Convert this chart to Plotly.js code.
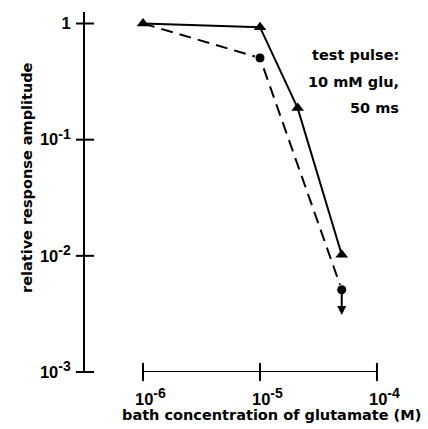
<!DOCTYPE html>
<html>
<head>
<meta charset="utf-8">
<script src="https://cdn.plot.ly/plotly-3.0.1.min.js"></script>
<style>
  html, body { margin: 0; padding: 0; background: #fff; }
  #chart { width: 428px; height: 429px; }
</style>
</head>
<body>
<div id="chart"></div>
<script>
// ---- data ----
var concSolid = [1e-6, 1e-5, 2.1e-5, 5e-5];          // bath glutamate (M), triangles
var ampSolid  = [1.0, 0.93, 0.187, 0.0102];           // relative amplitude, triangles
var concDashed = [1e-6, 1e-5, 5e-5];                  // circles
var ampDashed  = [1.0, 0.505, 0.0051];
var dashedArrowTip = 0.0031;                          // "less than" arrow below last circle

var xTickVals = [1e-6, 1e-5, 1e-4];
var xTickExp  = ['-6', '-5', '-4'];
var yTickVals = [1e-3, 1e-2, 1e-1, 1];
var yTickExp  = ['-3', '-2', '-1', ''];

var xTitle = 'bath concentration of glutamate (M)';
var yTitle = 'relative response amplitude';
var noteLines = ['test pulse:', '10 mM glu,', '50 ms'];

// ---- drawing ----
var ink = '#000';
var textFont = {family: 'DejaVu Sans', size: 14.5, color: ink, weight: 'bold'};
var tickFont = {family: 'Liberation Sans', size: 16.5, color: ink, weight: 'bold'};
function powLabel(e) {
  return e === '' ? '1' : '10<sup><span style="font-size:14px">' + e + '</span></sup>';
}
var xTickText = xTickExp.map(powLabel);
var yTickText = yTickExp.map(powLabel);

var traces = [
  { // dashed series (circles); first circle sits under the first triangle
    x: concDashed, y: ampDashed, type: 'scatter', mode: 'lines+markers',
    line: {color: ink, width: 2, dash: '12px,7px'},
    marker: {symbol: 'circle', opacity: 1, color: ink,
             size: concDashed.map(function(v, i){ return i === 0 ? 0 : 10; })},
    cliponaxis: false, showlegend: false, hoverinfo: 'skip'
  },
  { // solid series (triangles)
    x: concSolid, y: ampSolid, type: 'scatter', mode: 'lines+markers',
    line: {color: ink, width: 2},
    marker: {symbol: 'triangle-up', size: 11, color: ink, opacity: 1},
    cliponaxis: false, showlegend: false, hoverinfo: 'skip'
  },
  { // x axis line with crossing ticks, from first to last tick
    x: xTickVals, y: xTickVals.map(function(){ return 0; }),
    xaxis: 'x', yaxis: 'y2', type: 'scatter', mode: 'lines+markers',
    line: {color: ink, width: 2},
    marker: {symbol: 'line-ns', size: 13, line: {color: ink, width: 2}},
    cliponaxis: false, showlegend: false, hoverinfo: 'skip'
  },
  { // crossing ticks on the y axis
    x: yTickVals.map(function(){ return 0; }), y: yTickVals,
    xaxis: 'x2', yaxis: 'y', type: 'scatter', mode: 'markers',
    marker: {symbol: 'line-ew', size: 13, line: {color: ink, width: 2}},
    cliponaxis: false, showlegend: false, hoverinfo: 'skip'
  }
];

var lastX = concDashed[concDashed.length - 1];
var lastY = ampDashed[ampDashed.length - 1];

var annotations = [
  { // arrow below last dashed point
    x: Math.log10(lastX), y: Math.log10(dashedArrowTip), xref: 'x', yref: 'y',
    ax: Math.log10(lastX), ay: Math.log10(lastY), axref: 'x', ayref: 'y',
    showarrow: true, arrowhead: 2, arrowsize: 0.9, arrowwidth: 2, arrowcolor: ink,
    standoff: 0, startstandoff: 0, text: ''
  },
  {
    text: xTitle, xref: 'paper', yref: 'paper', x: 0.558, y: -0.119,
    xanchor: 'center', yanchor: 'middle', showarrow: false, font: textFont
  },
  {
    text: yTitle, xref: 'paper', yref: 'paper', x: -0.173, y: 0.539, textangle: -90,
    xanchor: 'center', yanchor: 'middle', showarrow: false, font: textFont
  }
];
// x tick labels: mantissa "10" centred under the tick, exponent hanging right
xTickVals.forEach(function(v, i) {
  annotations.push({
    text: xTickText[i], xref: 'x', yref: 'paper', x: Math.log10(v), y: 0,
    xanchor: 'left', yanchor: 'top', xshift: -10, yshift: -11,
    showarrow: false, font: tickFont
  });
});
var noteY = [0.881, 0.806, 0.733];
noteLines.forEach(function(t, i) {
  annotations.push({
    text: t, xref: 'paper', yref: 'paper', x: 0.943, y: noteY[i],
    xanchor: 'right', yanchor: 'middle', align: 'right', showarrow: false, font: textFont
  });
});

var layout = {
  width: 428, height: 429,
  margin: {l: 85, r: 8, t: 12, b: 57, pad: 0},
  paper_bgcolor: '#fff', plot_bgcolor: '#fff',
  showlegend: false,
  xaxis: {
    type: 'log', range: [-6.496, -3.632],
    showline: false, showgrid: false, zeroline: false,
    tickmode: 'array', tickvals: xTickVals, showticklabels: false, ticks: ''
  },
  yaxis: {
    type: 'log', range: [-3, 0.099],
    showline: true, linewidth: 2, linecolor: ink,
    showgrid: false, zeroline: false,
    tickmode: 'array', tickvals: yTickVals, ticktext: yTickText,
    ticks: '', tickfont: tickFont, ticklabelstandoff: 9
  },
  xaxis2: {range: [0, 1], overlaying: 'x', visible: false, fixedrange: true},
  yaxis2: {range: [0, 1], overlaying: 'y', visible: false, fixedrange: true},
  annotations: annotations
};

Plotly.newPlot('chart', traces, layout, {staticPlot: true, displayModeBar: false});
</script>
</body>
</html>
